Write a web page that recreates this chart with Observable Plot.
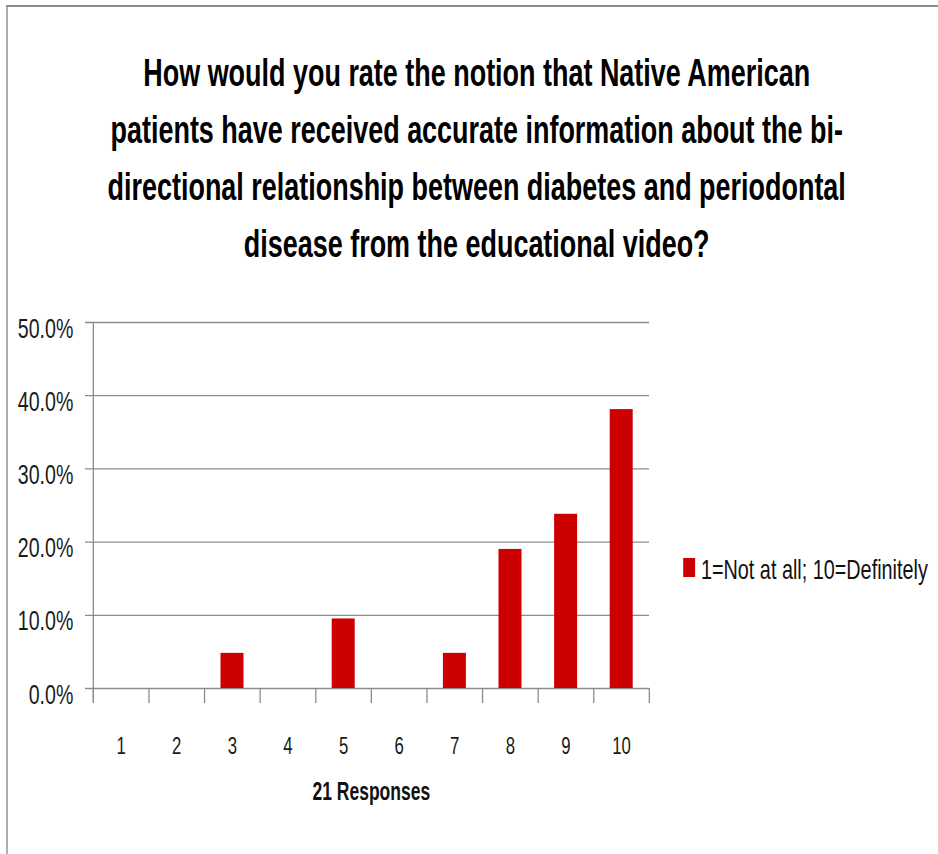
<!DOCTYPE html>
<html>
<head>
<meta charset="utf-8">
<script src="https://cdn.jsdelivr.net/npm/d3@7"></script>
<script src="https://cdn.jsdelivr.net/npm/@observablehq/plot@0.6"></script>
<style>
  html, body { margin: 0; padding: 0; background: #fff; }
  #outer { position: relative; width: 938px; height: 854px; overflow: hidden; background: #fff; }
  /* the whole figure is drawn 1/0.7 wider and squeezed horizontally, like the reference's condensed text */
  #wrap { position: absolute; left: 0; top: 0; width: 1340px; height: 854px; transform: scaleX(0.7); transform-origin: 0 0;
          font-family: "Liberation Sans", Arial, sans-serif; }
  #borderTop { position: absolute; left: 8.6px; top: 5px; width: 1340px; height: 2px; background: #8c8c8c; z-index: 5; }
  #borderLeft { position: absolute; left: 8.6px; top: 5px; width: 2.9px; height: 849px; background: #8c8c8c; z-index: 5; }
  #title { position: absolute; left: 0; top: 44px; width: 1340px; padding-left: 22px; box-sizing: border-box;
           font-weight: bold; font-size: 38.5px; color: #000; }
  #title .line { height: 57px; line-height: 57px; text-align: center; white-space: nowrap; }
  #chart { position: absolute; left: 0; top: 290px; }
  #legend { position: absolute; left: 975.7px; top: 558px; white-space: nowrap; }
  #legend .sw { position: absolute; left: 0; top: 0; width: 17.1px; height: 19px; }
  #legend .lab { position: absolute; left: 25.7px; top: -5px; font-size: 28.3px; line-height: 32px; color: #111; }
</style>
</head>
<body>
<div id="outer">
<div id="wrap">
  <div id="title"></div>
  <div id="chart"></div>
  <div id="legend"><div class="sw"></div><div class="lab"></div></div>
  <div id="borderTop"></div>
  <div id="borderLeft"></div>
</div>
</div>
<script>
// ---- data ----
const titleLines = [
  "How would you rate the notion that Native American",
  "patients have received accurate information about the bi-",
  "directional relationship between diabetes and periodontal",
  "disease from the educational video?"
];
const categories = ["1", "2", "3", "4", "5", "6", "7", "8", "9", "10"];
const percentValues = [0, 0, 4.8, 0, 9.5, 0, 4.8, 19.0, 23.8, 38.1];
const yTicks = [0, 10, 20, 30, 40, 50];
const seriesName = "1=Not at all; 10=Definitely";
const xAxisLabel = "21 Responses";
const barColor = "#cc0000";

// ---- layout / style (inner, unsqueezed coordinates) ----
const S = 0.7;
const W = 938 / S, H = 564;
const mLeft = 93 / S, mRight = W - 649 / S, mTop = 32, mBottom = 166;
const bw = (W - mLeft - mRight) / categories.length;
const barWidth = 23 / S;
const gridColor = "#8c8c8c";
const vStroke = 1.3 / S;

const data = categories.map((c, i) => ({cat: c, pct: percentValues[i]}));

// title
const titleEl = document.getElementById("title");
titleLines.forEach(t => {
  const d = document.createElement("div");
  d.className = "line";
  d.textContent = t;
  titleEl.appendChild(d);
});
document.querySelector("#legend .lab").textContent = seriesName;
document.querySelector("#legend .sw").style.background = barColor;

const svg = Plot.plot({
  width: W,
  height: H,
  marginLeft: mLeft,
  marginRight: mRight,
  marginTop: mTop,
  marginBottom: mBottom,
  style: {fontFamily: "'Liberation Sans', Arial, sans-serif", fontSize: "24px", color: "#1a1a1a", background: "transparent"},
  x: {domain: categories, padding: 0, round: false, tickSize: 0, tickPadding: 48.5, label: null},
  y: {domain: [0, yTicks[yTicks.length - 1]], ticks: yTicks, tickSize: 0, tickPadding: 28.6,
      tickFormat: d => d.toFixed(1) + "%", label: null},
  marks: [
    Plot.ruleY(yTicks, {stroke: gridColor, strokeWidth: 1.3, insetLeft: -8 / S}),
    Plot.barY(data, {x: "cat", y: "pct", fill: barColor, insetLeft: (bw - barWidth) / 2, insetRight: (bw - barWidth) / 2}),
    // category boundary ticks below baseline
    Plot.ruleX(categories, {x: d => d, dx: -bw / 2, y1: 0, y2: 0, insetBottom: -15, stroke: gridColor, strokeWidth: vStroke}),
    Plot.ruleX([categories[categories.length - 1]], {x: d => d, dx: bw / 2, y1: 0, y2: 0, insetBottom: -15, stroke: gridColor, strokeWidth: vStroke}),
    // vertical axis line
    Plot.ruleX([categories[0]], {x: d => d, dx: -bw / 2, y1: yTicks[yTicks.length - 1], y2: 0, insetBottom: -15, stroke: gridColor, strokeWidth: vStroke}),
    Plot.text([xAxisLabel], {text: d => d, frameAnchor: "bottom", dy: 111, fontSize: 25, fontWeight: "bold", fill: "#111"})
  ]
});
document.getElementById("chart").appendChild(svg);
// y tick labels: larger and shifted slightly down as in reference
d3.select(svg).selectAll('g[aria-label^="y-axis"] text').attr("dy", "0.22em").style("font-size", "28px");
</script>
</body>
</html>
